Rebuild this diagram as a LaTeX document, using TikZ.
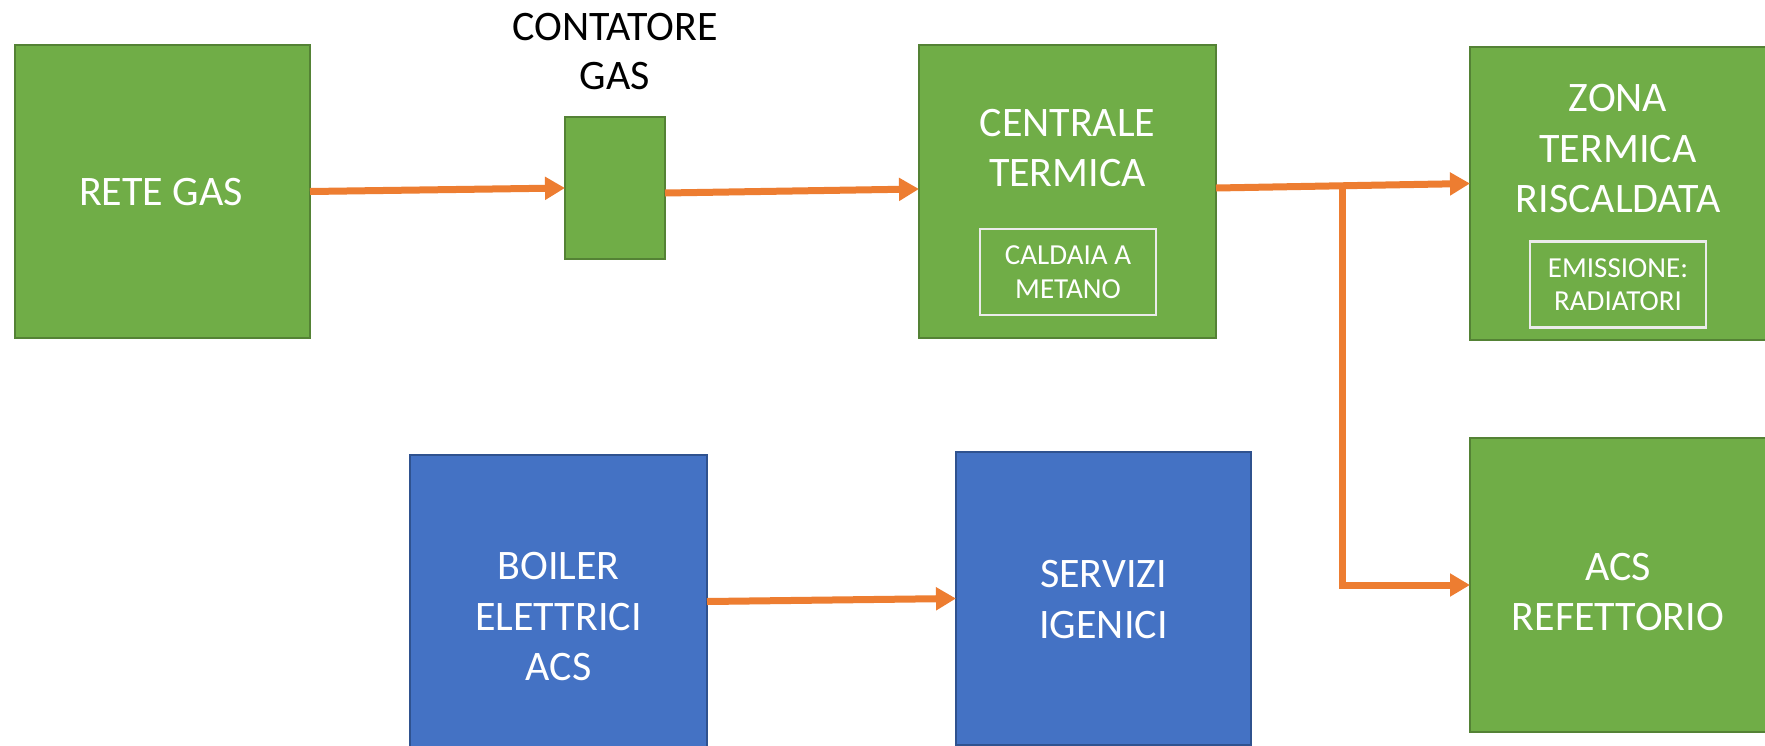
\documentclass[tikz,border=0pt]{standalone}
\usepackage{fontspec}
\setmainfont{Carlito}
\usetikzlibrary{arrows.meta}
\definecolor{gfill}{HTML}{70AD47}
\definecolor{gline}{HTML}{548235}
\definecolor{bfill}{HTML}{4472C4}
\definecolor{bline}{HTML}{2F528F}
\definecolor{orng}{HTML}{ED7D31}
\begin{document}
\begin{tikzpicture}[x=1pt,y=-1pt,
  gbox/.style={draw=gline,fill=gfill,line width=2.5pt,inner sep=0pt,outer sep=0pt},
  bbox/.style={draw=bline,fill=bfill,line width=2.5pt,inner sep=0pt,outer sep=0pt},
  ibox/.style={draw=white!92!black,line width=2.5pt,inner sep=0pt,outer sep=0pt,
    minimum width=176pt,minimum height=86pt,text=white,align=center,
    font=\fontsize{29}{33.5}\selectfont},
  wtext/.style={text=white,align=center,inner sep=0pt,font=\fontsize{42}{50.5}\selectfont},
  ktext/.style={text=black,align=center,inner sep=0pt,font=\fontsize{42}{49}\selectfont},
  arr/.style={draw=orng,line width=7pt,line join=miter,-{Triangle[length=20pt,width=22pt]}}
]
\useasboundingbox (0,0) rectangle (1765,745);
\fill[white] (0,0) rectangle (1765,745);
% boxes
\node[gbox,minimum width=295pt,minimum height=293pt] (rete) at (162.5,191.5) {};
\node[gbox,minimum width=100pt,minimum height=142pt] (cont) at (615,188) {};
\node[gbox,minimum width=297pt,minimum height=293pt] (cent) at (1067.5,191.5) {};
\node[gbox,minimum width=296pt,minimum height=293pt] (zona) at (1618,193.5) {};
\node[gbox,minimum width=296pt,minimum height=294pt] (acs) at (1618,585) {};
\node[bbox,minimum width=297pt,minimum height=293pt] (boil) at (558.5,601.5) {};
\node[bbox,minimum width=295pt,minimum height=293pt] (serv) at (1103.5,598.5) {};
% inner boxes
\node[ibox] (cald) at (1068,272) {CALDAIA A\\METANO};
\node[ibox] (emis) at (1618,284.5) {EMISSIONE:\\RADIATORI};
% texts
\node[wtext] (rete-t) at (161,192) {RETE GAS};
\node[ktext] (cont-t) at (615,52) {CONTATORE\\GAS};
\node[wtext] (cent-t) at (1067.5,148) {CENTRALE\\TERMICA};
\node[wtext] (zona-t) at (1618,149) {ZONA\\TERMICA\\RISCALDATA};
\node[wtext] (acs-t) at (1618,592) {ACS\\REFETTORIO};
\node[wtext] (boil-t) at (558.5,617) {BOILER\\ELETTRICI\\ACS};
\node[wtext] (serv-t) at (1103.5,599.5) {SERVIZI\\IGENICI};
% connectors
\draw[arr] (rete.east) -- (cont.west);
\draw[arr] ([yshift=-5pt]cont.east) -- ([yshift=2.5pt]cent.west);
\draw[arr] ([yshift=3.5pt]cent.east) -- ([yshift=10pt]zona.west);
\coordinate (j) at (1342,186);
\draw[arr] (j) |- (acs.west);
\draw[arr] (boil.east) -- (serv.west);
\end{tikzpicture}
\end{document}
